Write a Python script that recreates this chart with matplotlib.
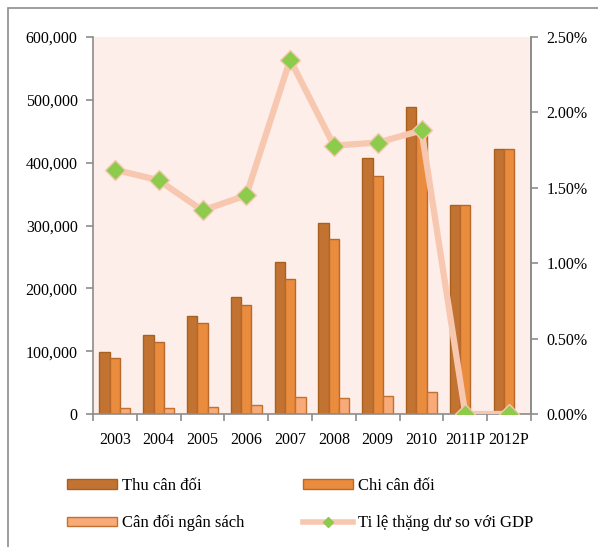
import matplotlib
matplotlib.use("Agg")
import matplotlib.pyplot as plt
import numpy as np
from matplotlib.patches import Rectangle
from matplotlib.lines import Line2D
from matplotlib.ticker import FuncFormatter, FixedLocator

years = ["2003", "2004", "2005", "2006", "2007", "2008", "2009", "2010", "2011P", "2012P"]
thu = [99000, 126000, 156000, 186000, 242000, 304000, 407000, 489000, 333000, 422000]
chi = [89000, 114000, 145000, 173000, 215000, 278000, 378000, 460000, 333000, 422000]
can_doi = [9500, 10000, 11000, 14000, 27000, 25000, 29000, 35500, 0, 0]
ti_le = [1.62, 1.55, 1.35, 1.45, 2.35, 1.78, 1.80, 1.88, 0.0, 0.0]

labels = ["Thu cân đối", "Chi cân đối", "Cân đối ngân sách", "Ti lệ thặng dư so với GDP"]

plt.rcParams['font.family'] = ['Liberation Serif', 'DejaVu Serif']

fig = plt.figure(figsize=(5.98, 5.47), dpi=100)
fig.patches.append(Rectangle((8/598, -0.1), 1.2, 1 - 8/547 + 0.1, transform=fig.transFigure,
                             fill=False, edgecolor='#8c8c8c', linewidth=1.2))

ax = fig.add_axes([93/598, 1 - 414/547, (531-93)/598, (414-37)/547])
ax.set_facecolor('#FDEEE9')
x = np.arange(len(years))
w = 0.235
ax.bar(x - w, thu, w, color='#C27332', edgecolor='#A8601F', linewidth=1.0, zorder=2)
ax.bar(x, chi, w, color='#EA8C3E', edgecolor='#B8682A', linewidth=1.0, zorder=2)
ax.bar(x + w, can_doi, w, color='#F8AA78', edgecolor='#C2712F', linewidth=1.0, zorder=2)
ax.set_xlim(-0.5, len(years) - 0.5)
ax.set_ylim(0, 600000)
ax.yaxis.set_major_locator(FixedLocator(np.arange(0, 600001, 100000)))
ax.yaxis.set_major_formatter(FuncFormatter(lambda v, p: f"{int(v):,}"))
ax.set_xticks(x)
ax.set_xticklabels(years)
ax.xaxis.set_minor_locator(FixedLocator(np.arange(-0.5, len(years), 1)))
ax.tick_params(axis='x', which='major', length=0, labelsize=11.5, pad=13, colors='black')
ax.tick_params(axis='x', which='minor', length=5, color='#8c8c8c', width=1.2)
ax.tick_params(axis='y', length=5, color='#8c8c8c', width=1.2, labelsize=11.5, pad=6)
ax.spines['top'].set_visible(False)
for s in ['left', 'bottom', 'right']:
    ax.spines[s].set_color('#8c8c8c')
    ax.spines[s].set_linewidth(1.2)

ax2 = ax.twinx()
ax2.plot(x, ti_le, color='#F7C7B0', linewidth=4.5, marker='D', markersize=10,
         markerfacecolor='#8CCB4C', markeredgecolor='#F7C7B0', markeredgewidth=1, zorder=3,
         solid_capstyle='round')
ax2.set_ylim(0, 2.5)
ax2.yaxis.set_major_locator(FixedLocator(np.arange(0, 2.51, 0.5)))
ax2.yaxis.set_major_formatter(FuncFormatter(lambda v, p: f"{v:.2f}%"))
ax2.tick_params(axis='y', length=5, color='#8c8c8c', width=1.2, labelsize=11.5, pad=6)
for s in ['top', 'left', 'bottom']:
    ax2.spines[s].set_visible(False)
ax2.spines['right'].set_color('#8c8c8c')
ax2.spines['right'].set_linewidth(1.2)

h_thu = Rectangle((0, 0), 1, 1, facecolor='#C27332', edgecolor='#A8601F', linewidth=1.0)
h_chi = Rectangle((0, 0), 1, 1, facecolor='#EA8C3E', edgecolor='#B8682A', linewidth=1.0)
h_cd = Rectangle((0, 0), 1, 1, facecolor='#F8AA78', edgecolor='#C2712F', linewidth=1.0)
h_tl = Line2D([], [], color='#F7C7B0', linewidth=4, marker='D', markersize=5,
              markerfacecolor='#8CCB4C', markeredgecolor='#8CCB4C')
leg = fig.legend([h_thu, h_cd, h_chi, h_tl], [labels[0], labels[2], labels[1], labels[3]], ncol=2,
                 loc='upper left', bbox_to_anchor=(52/598, 1 - 463/547), frameon=False,
                 fontsize=12, handlelength=3.0, handleheight=0.5, handletextpad=0.3,
                 columnspacing=3.5, labelspacing=1.25)

fig.savefig("out.png", dpi=100)
